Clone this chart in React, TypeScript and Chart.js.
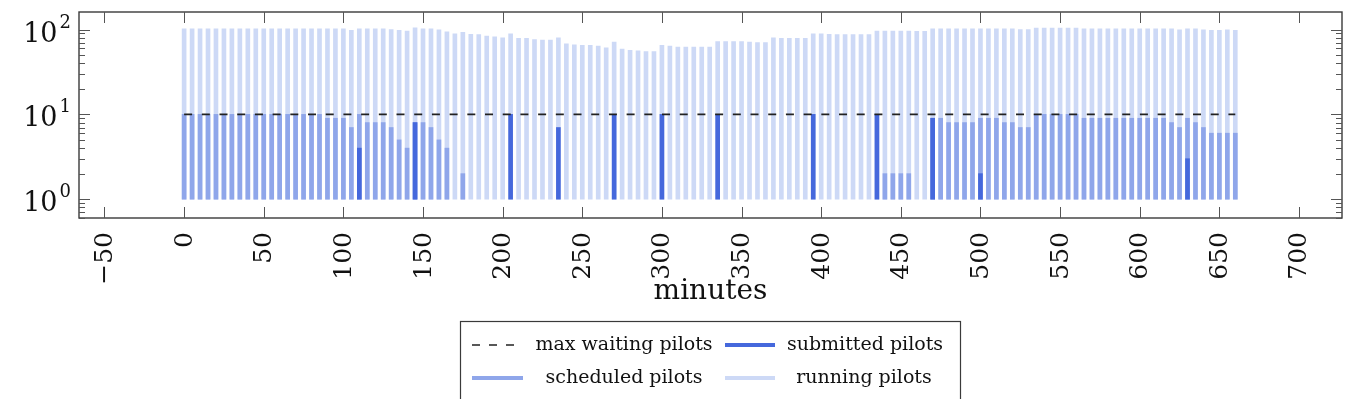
import React, { useEffect, useRef } from 'react';
import { Chart, registerables } from 'chart.js';

Chart.register(...registerables);

// ---------------- data ----------------
const minutes = [
  0, 5, 10, 15, 20, 25, 30, 35, 40, 45, 50, 55, 60, 65, 70, 75, 80, 85, 90, 95,
  100, 105, 110, 115, 120, 125, 130, 135, 140, 145, 150, 155, 160, 165, 170, 175, 180, 185, 190, 195,
  200, 205, 210, 215, 220, 225, 230, 235, 240, 245, 250, 255, 260, 265, 270, 275, 280, 285, 290, 295,
  300, 305, 310, 315, 320, 325, 330, 335, 340, 345, 350, 355, 360, 365, 370, 375, 380, 385, 390, 395,
  400, 405, 410, 415, 420, 425, 430, 435, 440, 445, 450, 455, 460, 465, 470, 475, 480, 485, 490, 495,
  500, 505, 510, 515, 520, 525, 530, 535, 540, 545, 550, 555, 560, 565, 570, 575, 580, 585, 590, 595,
  600, 605, 610, 615, 620, 625, 630, 635, 640, 645, 650, 655, 660,
];

const runningPilots = [
  102, 102, 102, 102, 102, 102, 102, 102, 102, 102, 102, 102, 102, 102, 102, 102, 102, 102, 102, 102,
  102, 98, 102, 102, 102, 102, 100, 98, 96, 105, 102, 102, 99, 94, 89, 93, 88, 87, 84, 82,
  80, 89, 79, 79, 76, 75, 75, 80, 68, 66, 65, 65, 64, 61, 71, 59, 57, 56, 55, 55,
  65, 64, 62, 62, 62, 62, 62, 72, 72, 72, 72, 71, 70, 70, 80, 79, 79, 79, 79, 89,
  89, 88, 87, 87, 87, 87, 87, 96, 96, 96, 96, 96, 95, 95, 102, 102, 102, 102, 102, 102,
  102, 102, 102, 102, 102, 100, 100, 104, 104, 104, 104, 104, 104, 102, 102, 102, 102, 102, 102, 102,
  102, 102, 102, 102, 102, 99, 102, 102, 99, 98, 98, 99, 98,
];

const scheduledPilots = [
  10, 10, 10, 10, 10, 10, 10, 10, 10, 10, 10, 10, 10, 10, 10, 10, 10, 10, 9, 9,
  9, 7, 10, 8, 8, 8, 7, 5, 4, 8, 8, 7, 5, 4, 0, 2, 0, 0, 0, 0,
  0, 0, 0, 0, 0, 0, 0, 0, 0, 0, 0, 0, 0, 0, 0, 0, 0, 0, 0, 0,
  0, 0, 0, 0, 0, 0, 0, 0, 0, 0, 0, 0, 0, 0, 0, 0, 0, 0, 0, 0,
  0, 0, 0, 0, 0, 0, 0, 0, 2, 2, 2, 2, 0, 0, 9, 9, 8, 8, 8, 8,
  9, 9, 9, 8, 8, 7, 7, 10, 10, 10, 10, 10, 10, 9, 9, 9, 9, 9, 9, 9,
  9, 9, 9, 9, 8, 7, 9, 8, 7, 6, 6, 6, 6,
];

const submittedPilots = [
  0, 0, 0, 0, 0, 0, 0, 0, 0, 0, 0, 0, 0, 0, 0, 0, 0, 0, 0, 0,
  0, 0, 4, 0, 0, 0, 0, 0, 0, 8, 0, 0, 0, 0, 0, 0, 0, 0, 0, 0,
  0, 10, 0, 0, 0, 0, 0, 7, 0, 0, 0, 0, 0, 0, 10, 0, 0, 0, 0, 0,
  10, 0, 0, 0, 0, 0, 0, 10, 0, 0, 0, 0, 0, 0, 0, 0, 0, 0, 0, 10,
  0, 0, 0, 0, 0, 0, 0, 10, 0, 0, 0, 0, 0, 0, 9, 0, 0, 0, 0, 0,
  2, 0, 0, 0, 0, 0, 0, 0, 0, 0, 0, 0, 0, 0, 0, 0, 0, 0, 0, 0,
  0, 0, 0, 0, 0, 0, 3, 0, 0, 0, 0, 0, 0,
];

const maxWaitingPilots = 10;

const xTickValues = [-50, 0, 50, 100, 150, 200, 250, 300, 350, 400, 450, 500, 550, 600, 650, 700];
const xTickLabels = ['\u221250', '0', '50', '100', '150', '200', '250', '300', '350', '400', '450', '500', '550', '600', '650', '700'];
const yMajorValues = [1, 10, 100];
const yMajorExponents = ['0', '1', '2'];
const yMinorValues = [0.6, 0.7, 0.8, 0.9, 2, 3, 4, 5, 6, 7, 8, 9, 20, 30, 40, 50, 60, 70, 80, 90];
const xAxisTitle = 'minutes';

const COLORS = {
  maxWaiting: '#222222',
  submitted: '#4568dc',
  scheduled: '#8fa6ea',
  running: '#cdd9f6',
  frame: '#3a3a3a',
  text: '#111111',
};

const FONT = '"DejaVu Serif", serif';

function barPoints(values: number[]) {
  const pts: any[] = [];
  values.forEach((v, i) => {
    if (v > 0) pts.push({ x: minutes[i], y: [1, v] });
  });
  return pts;
}

const decorPlugin = {
  id: 'decor',
  afterDraw(chart: any) {
    const ctx = chart.ctx as CanvasRenderingContext2D;
    const area = chart.chartArea;
    const xs = chart.scales.x;
    const ys = chart.scales.y;
    ctx.save();

    // frame
    ctx.strokeStyle = COLORS.frame;
    ctx.lineWidth = 1.4;
    ctx.strokeRect(area.left, area.top, area.right - area.left, area.bottom - area.top);

    // x ticks (inside, top & bottom)
    ctx.lineWidth = 1;
    ctx.strokeStyle = '#555';
    xTickValues.forEach((v) => {
      const px = Math.round(xs.getPixelForValue(v)) + 0.5;
      ctx.beginPath();
      ctx.moveTo(px, area.top);
      ctx.lineTo(px, area.top + 11);
      ctx.moveTo(px, area.bottom);
      ctx.lineTo(px, area.bottom - 11);
      ctx.stroke();
    });

    // y ticks (inside, left & right)
    const yTick = (v: number, len: number) => {
      const py = ys.getPixelForValue(v);
      if (py < area.top || py > area.bottom) return;
      const y = Math.round(py) + 0.5;
      ctx.beginPath();
      ctx.moveTo(area.left, y);
      ctx.lineTo(area.left + len, y);
      ctx.moveTo(area.right, y);
      ctx.lineTo(area.right - len, y);
      ctx.stroke();
    };
    yMajorValues.forEach((v) => yTick(v, 11));
    yMinorValues.forEach((v) => yTick(v, 6));

    // y labels 10^k
    ctx.fillStyle = COLORS.text;
    yMajorValues.forEach((v, i) => {
      const py = ys.getPixelForValue(v);
      ctx.font = `27px ${FONT}`;
      const tenW = ctx.measureText('10').width;
      ctx.font = `18px ${FONT}`;
      const supW = ctx.measureText(yMajorExponents[i]).width;
      const right = area.left - 8;
      ctx.textAlign = 'left';
      ctx.textBaseline = 'alphabetic';
      ctx.font = `27px ${FONT}`;
      ctx.fillText('10', right - supW - 2 - tenW, py + 12);
      ctx.font = `18px ${FONT}`;
      ctx.fillText(yMajorExponents[i], right - supW, py - 2);
    });

    // x labels rotated
    ctx.font = `25px ${FONT}`;
    xTickValues.forEach((v, i) => {
      const px = xs.getPixelForValue(v);
      ctx.save();
      ctx.translate(px, area.bottom + 14);
      ctx.rotate(-Math.PI / 2);
      ctx.textAlign = 'right';
      ctx.textBaseline = 'middle';
      ctx.fillText(xTickLabels[i], 0, 1);
      ctx.restore();
    });

    // axis title
    ctx.font = `28px ${FONT}`;
    ctx.textAlign = 'center';
    ctx.textBaseline = 'alphabetic';
    ctx.fillText(xAxisTitle, (area.left + area.right) / 2, area.bottom + 81);

    // legend
    const ds = chart.data.datasets;
    const boxL = 460.5, boxT = 321.5, boxR = 960.5, boxB = 420;
    ctx.strokeStyle = COLORS.frame;
    ctx.lineWidth = 1.2;
    ctx.strokeRect(boxL, boxT, boxR - boxL, boxB - boxT);
    const entries = [
      { d: ds[0], sx: [472, 518], tx: 624, y: 345 },
      { d: ds[1], sx: [725, 775], tx: 865, y: 345 },
      { d: ds[2], sx: [472, 523], tx: 624, y: 378 },
      { d: ds[3], sx: [725, 775], tx: 864, y: 378 },
    ];
    ctx.font = `19px ${FONT}`;
    entries.forEach((e) => {
      ctx.save();
      ctx.beginPath();
      if (e.d.type === 'line') {
        ctx.strokeStyle = e.d.borderColor;
        ctx.lineWidth = 1.5;
        ctx.setLineDash([8, 9]);
      } else {
        ctx.strokeStyle = e.d.backgroundColor;
        ctx.lineWidth = 4;
      }
      ctx.moveTo(e.sx[0], e.y);
      ctx.lineTo(e.sx[1], e.y);
      ctx.stroke();
      ctx.restore();
      ctx.fillStyle = COLORS.text;
      ctx.textAlign = 'center';
      ctx.textBaseline = 'middle';
      ctx.fillText(e.d.label, e.tx, e.y);
    });

    ctx.restore();
  },
};

export default function App() {
  const ref = useRef<HTMLCanvasElement | null>(null);

  useEffect(() => {
    if (!ref.current) return;
    const chart = new Chart(ref.current, {
      type: 'bar',
      data: {
        datasets: [
          {
            type: 'line',
            label: 'max waiting pilots',
            data: [
              { x: minutes[0], y: maxWaitingPilots },
              { x: minutes[minutes.length - 1], y: maxWaitingPilots },
            ],
            borderColor: COLORS.maxWaiting,
            borderWidth: 1.6,
            borderDash: [8, 9.7],
            pointRadius: 0,
            fill: false,
          } as any,
          {
            type: 'bar',
            label: 'submitted pilots',
            data: barPoints(submittedPilots),
            backgroundColor: COLORS.submitted,
            barThickness: 4,
            grouped: false,
            borderWidth: 0,
          } as any,
          {
            type: 'bar',
            label: 'scheduled pilots',
            data: barPoints(scheduledPilots),
            backgroundColor: COLORS.scheduled,
            barThickness: 4,
            grouped: false,
            borderWidth: 0,
          } as any,
          {
            type: 'bar',
            label: 'running pilots',
            data: barPoints(runningPilots),
            backgroundColor: COLORS.running,
            barThickness: 4,
            grouped: false,
            borderWidth: 0,
          } as any,
        ],
      },
      options: {
        animation: false,
        responsive: false,
        devicePixelRatio: 1,
        layout: { padding: { top: 12, right: 6, left: 0, bottom: 0 } },
        plugins: { legend: { display: false }, tooltip: { enabled: false } },
        scales: {
          x: {
            type: 'linear',
            min: -66,
            max: 727,
            offset: false,
            grid: { display: false },
            border: { display: false },
            ticks: { display: false },
            afterFit: (s: any) => {
              s.height = 181;
            },
          },
          y: {
            type: 'logarithmic',
            min: 0.628,
            max: 161,
            grid: { display: false },
            border: { display: false },
            ticks: { display: false },
            afterFit: (s: any) => {
              s.width = 79;
            },
          },
        },
      } as any,
      plugins: [decorPlugin],
    });
    return () => chart.destroy();
  }, []);

  return (
    <div style={{ position: 'absolute', left: 0, top: 0, width: 1348, height: 399, background: '#fff' }}>
      <canvas ref={ref} width={1348} height={399} style={{ width: 1348, height: 399, display: 'block' }} />
    </div>
  );
}
